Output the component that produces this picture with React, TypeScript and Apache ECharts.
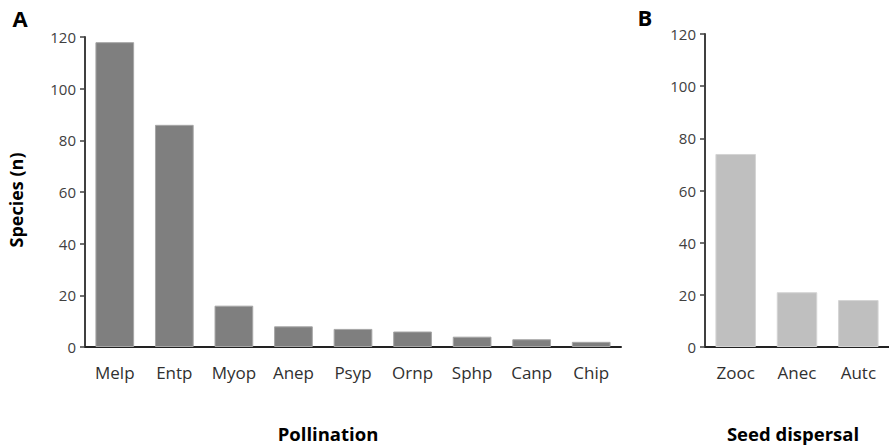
import React, { useEffect, useRef } from "react";
import * as echarts from "echarts";

const pollinationCats = ["Melp", "Entp", "Myop", "Anep", "Psyp", "Ornp", "Sphp", "Canp", "Chip"];
const pollinationVals = [118, 86, 16, 8, 7, 6, 4, 3, 2];
const dispersalCats = ["Zooc", "Anec", "Autc"];
const dispersalVals = [74, 21, 18];
const yTicks = [0, 20, 40, 60, 80, 100, 120];

const FONT = "Open Sans";
const AXIS = "#404040";

export default function App() {
  const ref = useRef<HTMLDivElement>(null);
  useEffect(() => {
    if (!ref.current) return;
    const chart = echarts.init(ref.current, null, { renderer: "svg" });
    const yAxisBase = (idx: number) => ({
      type: "value" as const,
      gridIndex: idx,
      min: yTicks[0],
      max: yTicks[yTicks.length - 1],
      interval: 20,
      axisLine: { show: true, lineStyle: { color: AXIS, width: 2 } },
      axisTick: { show: true, length: 5, lineStyle: { color: AXIS, width: 1.5 } },
      axisLabel: { fontFamily: FONT, fontSize: 15, color: "#404040", margin: 9 },
      splitLine: { show: false },
    });
    const xAxisBase = (idx: number, cats: string[]) => ({
      type: "category" as const,
      gridIndex: idx,
      data: cats,
      axisLine: { show: true, lineStyle: { color: "#222", width: 2 } },
      axisTick: { show: false },
      axisLabel: { fontFamily: FONT, fontSize: 17, color: "#303030", margin: 17, interval: 0 },
    });
    const txt = (text: string, x: number, y: number, size: number, extra: any = {}) => ({
      type: "text",
      x,
      y,
      ...extra,
      style: {
        text,
        fontFamily: FONT,
        fontWeight: "bold",
        fontSize: size,
        fill: "#000",
        align: "center",
        verticalAlign: "middle",
      },
    });
    chart.setOption({
      animation: false,
      backgroundColor: "#fff",
      grid: [
        { left: 85, right: 268, top: 37, bottom: 98 },
        { left: 705, right: -1, top: 34, bottom: 98 },
      ],
      xAxis: [xAxisBase(0, pollinationCats), xAxisBase(1, dispersalCats)],
      yAxis: [yAxisBase(0), yAxisBase(1)],
      series: [
        {
          type: "bar",
          xAxisIndex: 0,
          yAxisIndex: 0,
          data: pollinationVals,
          barWidth: "65%",
          itemStyle: { color: "#7f7f7f", borderColor: "#a6a6a6", borderWidth: 1 },
        },
        {
          type: "bar",
          xAxisIndex: 1,
          yAxisIndex: 1,
          data: dispersalVals,
          barWidth: "66%",
          itemStyle: { color: "#bfbfbf", borderColor: "#d4d4d4", borderWidth: 1 },
        },
      ],
      graphic: [
        txt("A", 20, 18, 22),
        txt("B", 645, 17, 22),
        txt("Species (n)", 16, 200, 18, { rotation: Math.PI / 2 }),
        txt("Pollination", 328, 433, 18.5),
        txt("Seed dispersal", 793, 433, 18.5),
      ],
    });
    return () => chart.dispose();
  }, []);
  return <div ref={ref} style={{ width: 889, height: 445, position: "absolute", left: 0, top: 0 }} />;
}
